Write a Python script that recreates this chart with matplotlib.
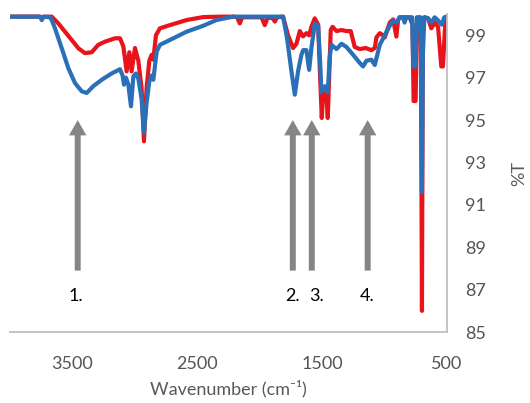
import matplotlib
matplotlib.use("Agg")
from matplotlib import pyplot as plt

plt.rcParams["font.family"] = ["Lato", "DejaVu Sans"]

# spectrum 1 (red)
wn_red = [4000, 3760, 3746, 3730, 3666, 3613, 3560, 3506, 3453, 3400, 3346, 3293, 3239, 3159,
          3119, 3092, 3066, 3044, 3026, 2999, 2972, 2946, 2927, 2906, 2884, 2865, 2852, 2831,
          2799, 2719, 2585, 2452, 2318, 2212, 2180, 2159, 2140, 1985, 1959, 1935, 1895, 1878,
          1860, 1812, 1772, 1732, 1705, 1678, 1652, 1625, 1603, 1585, 1558, 1531, 1515, 1502,
          1490, 1478, 1465, 1454, 1440, 1430, 1415, 1384, 1344, 1304, 1270, 1238, 1198, 1150,
          1104, 1077, 1064, 1037, 1011, 997, 957, 930, 904, 891, 878, 798, 775, 766, 750, 739,
          723, 708, 699, 692, 677, 650, 624, 597, 570, 544, 531, 515, 504, 500]
t_red = [99.88, 99.88, 99.82, 99.88, 99.88, 99.56, 99.17, 98.78, 98.39, 98.16, 98.2, 98.55, 98.7, 98.86,
         98.86, 98.47, 97.3, 98.2, 97.3, 98.4, 97.8, 96.5, 94.0, 96.5, 97.8, 98.08, 97.85, 99.0,
         99.33, 99.48, 99.72, 99.86, 99.88, 99.88, 99.85, 99.56, 99.85, 99.85, 99.48, 99.85, 99.8, 99.65,
         99.85, 99.88, 99.0, 98.4, 98.6, 99.2, 98.95, 99.1, 99.0, 99.4, 99.8, 99.5, 97.0, 95.1,
         96.3, 96.3, 96.3, 95.1, 97.5, 99.25, 99.4, 99.2, 99.25, 99.2, 99.2, 98.45, 98.35, 98.4,
         98.3, 98.4, 98.9, 99.1, 99.0, 98.9, 99.6, 99.75, 98.94, 99.7, 99.85, 99.85, 99.5, 95.9, 95.9, 99.6,
         99.85, 99.5, 86.0, 99.5, 99.85, 99.8, 99.33, 99.6, 99.4, 97.53, 97.53, 99.3, 99.85, 99.88]

# spectrum 2 (blue)
wn_blue = [4000, 3760, 3746, 3730, 3680, 3666, 3640, 3586, 3533, 3480, 3426, 3386, 3333, 3266,
           3186, 3119, 3098, 3087, 3071, 3052, 3031, 3012, 2991, 2972, 2946, 2927, 2906, 2884,
           2865, 2852, 2825, 2799, 2719, 2585, 2452, 2346, 2212, 1812, 1780, 1745, 1718, 1692,
           1665, 1651, 1625, 1603, 1585, 1558, 1531, 1513, 1505, 1490, 1478, 1465, 1454, 1438,
           1424, 1384, 1344, 1304, 1251, 1198, 1171, 1144, 1104, 1077, 1037, 997, 957, 930, 904,
           878, 851, 838, 825, 778, 768, 752, 740, 710, 706, 699, 692, 680, 650, 624, 597, 570,
           540, 520, 500]
t_blue = [99.88, 99.88, 99.72, 99.88, 99.85, 99.72, 99.33, 98.39, 97.45, 96.75, 96.36, 96.28, 96.6, 96.9,
          97.2, 97.4, 97.1, 96.67, 97.0, 96.67, 95.65, 97.06, 97.2, 96.95, 96.0, 94.4, 95.8, 96.83,
          97.1, 96.9, 98.23, 98.55, 98.78, 99.17, 99.45, 99.72, 99.88, 99.88, 98.86, 97.3, 96.2, 97.3,
          98.08, 98.3, 98.3, 97.37, 98.4, 99.55, 99.45, 97.5, 96.3, 96.5, 96.6, 96.5, 96.3, 98.0,
          98.55, 98.35, 98.6, 98.45, 98.08, 97.7, 97.53, 97.8, 97.85, 97.6, 98.55, 99.0, 99.45, 99.7, 99.6,
          99.85, 99.85, 99.6, 99.85, 99.85, 97.53, 97.53, 99.85, 99.85, 98.0, 91.6, 98.0, 99.85, 99.8, 99.6, 99.85, 99.7,
          99.5, 99.85, 99.88]

# marked bands
arrow_wn = [3458, 1734, 1582, 1134]
arrow_labels = ["1.", "2.", "3.", "4."]
label_wn = [3475, 1735, 1545, 1135]

fig = plt.figure(figsize=(5.3, 4.03), dpi=100)
ax = fig.add_axes([0.019, 0.176, 0.824, 0.789])

ax.plot(wn_red, t_red, color="#e8131b", lw=3.0, solid_joinstyle="round")
ax.plot(wn_blue, t_blue, color="#2a70b8", lw=3.0, solid_joinstyle="round")

for w in arrow_wn:
    ax.annotate("", xy=(w, 95.0), xytext=(w, 87.9),
                arrowprops=dict(facecolor="#858585", edgecolor="none", width=4.3,
                                headwidth=12.5, headlength=11, shrink=0))
for w, lab in zip(label_wn, arrow_labels):
    ax.text(w, 86.7, lab, ha="center", va="center", fontsize=13, color="black")

ax.set_xlim(4000, 500)
ax.set_ylim(85, 100)
ax.set_xticks([3500, 2500, 1500, 500])
ax.set_yticks(range(85, 100, 2))
ax.yaxis.tick_right()
ax.tick_params(length=0, labelsize=13, labelcolor="#555555")
ax.tick_params(axis="x", pad=17)
ax.tick_params(axis="y", pad=13)

for s in ["top", "left"]:
    ax.spines[s].set_visible(False)
for s in ["bottom", "right"]:
    ax.spines[s].set_color("#bfbfbf")
    ax.spines[s].set_linewidth(1.3)

ax.set_xlabel("Wavenumber (cm\u207b\u00b9)", fontsize=13, color="#595959", labelpad=6)
ax.set_ylabel("%T", fontsize=13, color="#595959")
ax.yaxis.set_label_position("right")
ax.yaxis.set_label_coords(1.148, 0.5)

fig.savefig("out.png", dpi=100)
